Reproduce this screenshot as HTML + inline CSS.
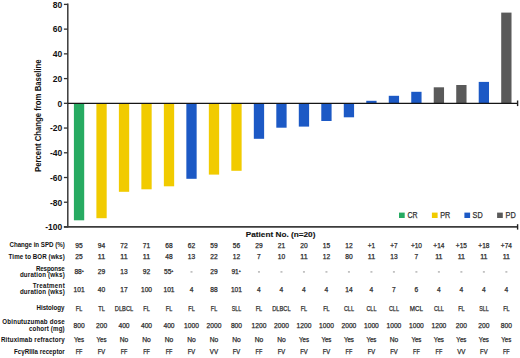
<!DOCTYPE html><html><head><meta charset="utf-8"><style>html,body{margin:0;padding:0;background:#fff;}svg{display:block;}text{font-family:"Liberation Sans",sans-serif;}</style></head><body>
<svg width="520" height="358" viewBox="0 0 520 358">
<rect x="73.90" y="103.20" width="10.3" height="117.10" fill="#27ab62"/>
<rect x="96.39" y="103.20" width="10.3" height="115.00" fill="#f1cb00"/>
<rect x="118.88" y="103.20" width="10.3" height="88.60" fill="#f1cb00"/>
<rect x="141.37" y="103.20" width="10.3" height="86.10" fill="#f1cb00"/>
<rect x="163.86" y="103.20" width="10.3" height="83.10" fill="#f1cb00"/>
<rect x="186.35" y="103.20" width="10.3" height="75.60" fill="#1c59c5"/>
<rect x="208.84" y="103.20" width="10.3" height="71.40" fill="#f1cb00"/>
<rect x="231.33" y="103.20" width="10.3" height="67.60" fill="#f1cb00"/>
<rect x="253.82" y="103.20" width="10.3" height="35.60" fill="#1c59c5"/>
<rect x="276.31" y="103.20" width="10.3" height="24.50" fill="#1c59c5"/>
<rect x="298.80" y="103.20" width="10.3" height="23.40" fill="#1c59c5"/>
<rect x="321.29" y="103.20" width="10.3" height="17.80" fill="#1c59c5"/>
<rect x="343.78" y="103.20" width="10.3" height="14.10" fill="#1c59c5"/>
<rect x="366.27" y="100.80" width="10.3" height="2.40" fill="#1c59c5"/>
<rect x="388.76" y="95.80" width="10.3" height="7.40" fill="#1c59c5"/>
<rect x="411.25" y="91.80" width="10.3" height="11.40" fill="#1c59c5"/>
<rect x="433.74" y="87.30" width="10.3" height="15.90" fill="#5a5a5a"/>
<rect x="456.23" y="85.00" width="10.3" height="18.20" fill="#5a5a5a"/>
<rect x="478.72" y="81.90" width="10.3" height="21.30" fill="#1c59c5"/>
<rect x="501.21" y="12.60" width="10.3" height="90.60" fill="#5a5a5a"/>
<line x1="67.8" y1="3.6" x2="67.8" y2="227.6" stroke="#3a3a3a" stroke-width="1.5"/>
<line x1="63.9" y1="4.40" x2="67.8" y2="4.40" stroke="#333" stroke-width="1.3"/>
<text x="62.3" y="7.70" font-size="8.5" font-weight="bold" text-anchor="end" fill="#111">80</text>
<line x1="63.9" y1="29.13" x2="67.8" y2="29.13" stroke="#333" stroke-width="1.3"/>
<text x="62.3" y="32.43" font-size="8.5" font-weight="bold" text-anchor="end" fill="#111">60</text>
<line x1="63.9" y1="53.86" x2="67.8" y2="53.86" stroke="#333" stroke-width="1.3"/>
<text x="62.3" y="57.16" font-size="8.5" font-weight="bold" text-anchor="end" fill="#111">40</text>
<line x1="63.9" y1="78.59" x2="67.8" y2="78.59" stroke="#333" stroke-width="1.3"/>
<text x="62.3" y="81.89" font-size="8.5" font-weight="bold" text-anchor="end" fill="#111">20</text>
<line x1="63.9" y1="103.32" x2="67.8" y2="103.32" stroke="#333" stroke-width="1.3"/>
<text x="62.3" y="106.62" font-size="8.5" font-weight="bold" text-anchor="end" fill="#111">0</text>
<line x1="63.9" y1="128.05" x2="67.8" y2="128.05" stroke="#333" stroke-width="1.3"/>
<text x="62.3" y="131.35" font-size="8.5" font-weight="bold" text-anchor="end" fill="#111">-20</text>
<line x1="63.9" y1="152.78" x2="67.8" y2="152.78" stroke="#333" stroke-width="1.3"/>
<text x="62.3" y="156.08" font-size="8.5" font-weight="bold" text-anchor="end" fill="#111">-40</text>
<line x1="63.9" y1="177.51" x2="67.8" y2="177.51" stroke="#333" stroke-width="1.3"/>
<text x="62.3" y="180.81" font-size="8.5" font-weight="bold" text-anchor="end" fill="#111">-60</text>
<line x1="63.9" y1="202.24" x2="67.8" y2="202.24" stroke="#333" stroke-width="1.3"/>
<text x="62.3" y="205.54" font-size="8.5" font-weight="bold" text-anchor="end" fill="#111">-80</text>
<line x1="63.9" y1="226.97" x2="67.8" y2="226.97" stroke="#333" stroke-width="1.3"/>
<text x="62.3" y="230.27" font-size="8.5" font-weight="bold" text-anchor="end" fill="#111">-100</text>
<line x1="67.8" y1="103.3" x2="517.6" y2="103.3" stroke="#151515" stroke-width="1.3"/>
<line x1="517.6" y1="100.5" x2="517.6" y2="106.1" stroke="#222" stroke-width="1.4"/>
<line x1="63.9" y1="226.9" x2="517.6" y2="226.9" stroke="#3c3c3c" stroke-width="1.6"/>
<line x1="517.6" y1="224.2" x2="517.6" y2="229.6" stroke="#222" stroke-width="1.4"/>
<text transform="translate(40.9,172.0) rotate(-90)" font-size="8.7" font-weight="bold" fill="#111" textLength="112.6" lengthAdjust="spacingAndGlyphs">Percent Change from Baseline</text>
<rect x="399.0" y="212.6" width="5.7" height="5.4" fill="#27ab62"/>
<text x="407.4" y="218.1" font-size="8.2" fill="#333" stroke="#333" stroke-width="0.25" textLength="10.1" lengthAdjust="spacingAndGlyphs">CR</text>
<rect x="431.9" y="212.6" width="5.7" height="5.4" fill="#f1cb00"/>
<text x="440.3" y="218.1" font-size="8.2" fill="#333" stroke="#333" stroke-width="0.25" textLength="10.0" lengthAdjust="spacingAndGlyphs">PR</text>
<rect x="464.4" y="212.6" width="5.7" height="5.4" fill="#1c59c5"/>
<text x="472.6" y="218.1" font-size="8.2" fill="#333" stroke="#333" stroke-width="0.25" textLength="10.1" lengthAdjust="spacingAndGlyphs">SD</text>
<rect x="497.1" y="212.6" width="5.7" height="5.4" fill="#5a5a5a"/>
<text x="505.6" y="218.1" font-size="8.2" fill="#333" stroke="#333" stroke-width="0.25" textLength="10.2" lengthAdjust="spacingAndGlyphs">PD</text>
<text x="245.8" y="237.1" font-size="8.0" font-weight="bold" fill="#111" stroke="#111" stroke-width="0.12" textLength="69.6" lengthAdjust="spacingAndGlyphs">Patient No. (n=20)</text>
<text transform="translate(9.50,247.4) scale(1,1.06)" font-size="6.2" font-weight="bold" fill="#111" textLength="55.2" lengthAdjust="spacing">Change in SPD (%)</text>
<text transform="translate(8.60,259.1) scale(1,1.06)" font-size="6.2" font-weight="bold" fill="#111" textLength="56.1" lengthAdjust="spacing">Time to BOR (wks)</text>
<text transform="translate(35.90,270.6) scale(1,1.06)" font-size="6.2" font-weight="bold" fill="#111" textLength="28.8" lengthAdjust="spacing">Response</text>
<text transform="translate(19.90,276.6) scale(1,1.06)" font-size="6.2" font-weight="bold" fill="#111" textLength="44.8" lengthAdjust="spacing">duration (wks)</text>
<text transform="translate(32.70,288.3) scale(1,1.06)" font-size="6.2" font-weight="bold" fill="#111" textLength="32.0" lengthAdjust="spacing">Treatment</text>
<text transform="translate(19.90,294.4) scale(1,1.06)" font-size="6.2" font-weight="bold" fill="#111" textLength="44.8" lengthAdjust="spacing">duration (wks)</text>
<text transform="translate(36.50,309.9) scale(1,1.06)" font-size="6.2" font-weight="bold" fill="#111" textLength="28.0" lengthAdjust="spacing">Histology</text>
<text transform="translate(2.30,324.2) scale(1,1.06)" font-size="6.2" font-weight="bold" fill="#111" textLength="62.4" lengthAdjust="spacing">Obinutuzumab dose</text>
<text transform="translate(28.90,330.5) scale(1,1.06)" font-size="6.2" font-weight="bold" fill="#111" textLength="35.8" lengthAdjust="spacing">cohort (mg)</text>
<text transform="translate(1.00,341.9) scale(1,1.06)" font-size="6.2" font-weight="bold" fill="#111" textLength="63.7" lengthAdjust="spacing">Rituximab refractory</text>
<text transform="translate(14.00,353.6) scale(1,1.06)" font-size="6.2" font-weight="bold" fill="#111" textLength="50.7" lengthAdjust="spacing">FcγRIIIa receptor</text>
<text x="79.05" y="247.7" font-size="7" fill="#2a2a2a" stroke="#2a2a2a" stroke-width="0.25" text-anchor="middle" textLength="7.40" lengthAdjust="spacingAndGlyphs">95</text>
<text x="101.54" y="247.7" font-size="7" fill="#2a2a2a" stroke="#2a2a2a" stroke-width="0.25" text-anchor="middle" textLength="7.40" lengthAdjust="spacingAndGlyphs">94</text>
<text x="124.03" y="247.7" font-size="7" fill="#2a2a2a" stroke="#2a2a2a" stroke-width="0.25" text-anchor="middle" textLength="7.40" lengthAdjust="spacingAndGlyphs">72</text>
<text x="146.52" y="247.7" font-size="7" fill="#2a2a2a" stroke="#2a2a2a" stroke-width="0.25" text-anchor="middle" textLength="7.40" lengthAdjust="spacingAndGlyphs">71</text>
<text x="169.01" y="247.7" font-size="7" fill="#2a2a2a" stroke="#2a2a2a" stroke-width="0.25" text-anchor="middle" textLength="7.40" lengthAdjust="spacingAndGlyphs">68</text>
<text x="191.50" y="247.7" font-size="7" fill="#2a2a2a" stroke="#2a2a2a" stroke-width="0.25" text-anchor="middle" textLength="7.40" lengthAdjust="spacingAndGlyphs">62</text>
<text x="213.99" y="247.7" font-size="7" fill="#2a2a2a" stroke="#2a2a2a" stroke-width="0.25" text-anchor="middle" textLength="7.40" lengthAdjust="spacingAndGlyphs">59</text>
<text x="236.48" y="247.7" font-size="7" fill="#2a2a2a" stroke="#2a2a2a" stroke-width="0.25" text-anchor="middle" textLength="7.40" lengthAdjust="spacingAndGlyphs">56</text>
<text x="258.97" y="247.7" font-size="7" fill="#2a2a2a" stroke="#2a2a2a" stroke-width="0.25" text-anchor="middle" textLength="7.40" lengthAdjust="spacingAndGlyphs">29</text>
<text x="281.46" y="247.7" font-size="7" fill="#2a2a2a" stroke="#2a2a2a" stroke-width="0.25" text-anchor="middle" textLength="7.40" lengthAdjust="spacingAndGlyphs">21</text>
<text x="303.95" y="247.7" font-size="7" fill="#2a2a2a" stroke="#2a2a2a" stroke-width="0.25" text-anchor="middle" textLength="7.40" lengthAdjust="spacingAndGlyphs">20</text>
<text x="326.44" y="247.7" font-size="7" fill="#2a2a2a" stroke="#2a2a2a" stroke-width="0.25" text-anchor="middle" textLength="7.40" lengthAdjust="spacingAndGlyphs">15</text>
<text x="348.93" y="247.7" font-size="7" fill="#2a2a2a" stroke="#2a2a2a" stroke-width="0.25" text-anchor="middle" textLength="7.40" lengthAdjust="spacingAndGlyphs">12</text>
<text x="371.42" y="247.7" font-size="7" fill="#2a2a2a" stroke="#2a2a2a" stroke-width="0.25" text-anchor="middle" textLength="7.34" lengthAdjust="spacingAndGlyphs">+1</text>
<text x="393.91" y="247.7" font-size="7" fill="#2a2a2a" stroke="#2a2a2a" stroke-width="0.25" text-anchor="middle" textLength="7.34" lengthAdjust="spacingAndGlyphs">+7</text>
<text x="416.40" y="247.7" font-size="7" fill="#2a2a2a" stroke="#2a2a2a" stroke-width="0.25" text-anchor="middle" textLength="11.04" lengthAdjust="spacingAndGlyphs">+10</text>
<text x="438.89" y="247.7" font-size="7" fill="#2a2a2a" stroke="#2a2a2a" stroke-width="0.25" text-anchor="middle" textLength="11.04" lengthAdjust="spacingAndGlyphs">+14</text>
<text x="461.38" y="247.7" font-size="7" fill="#2a2a2a" stroke="#2a2a2a" stroke-width="0.25" text-anchor="middle" textLength="11.04" lengthAdjust="spacingAndGlyphs">+15</text>
<text x="483.87" y="247.7" font-size="7" fill="#2a2a2a" stroke="#2a2a2a" stroke-width="0.25" text-anchor="middle" textLength="11.04" lengthAdjust="spacingAndGlyphs">+18</text>
<text x="506.36" y="247.7" font-size="7" fill="#2a2a2a" stroke="#2a2a2a" stroke-width="0.25" text-anchor="middle" textLength="11.04" lengthAdjust="spacingAndGlyphs">+74</text>
<text x="79.05" y="259.2" font-size="7" fill="#2a2a2a" stroke="#2a2a2a" stroke-width="0.25" text-anchor="middle" textLength="7.40" lengthAdjust="spacingAndGlyphs">25</text>
<text x="101.54" y="259.2" font-size="7" fill="#2a2a2a" stroke="#2a2a2a" stroke-width="0.25" text-anchor="middle" textLength="7.40" lengthAdjust="spacingAndGlyphs">11</text>
<text x="124.03" y="259.2" font-size="7" fill="#2a2a2a" stroke="#2a2a2a" stroke-width="0.25" text-anchor="middle" textLength="7.40" lengthAdjust="spacingAndGlyphs">11</text>
<text x="146.52" y="259.2" font-size="7" fill="#2a2a2a" stroke="#2a2a2a" stroke-width="0.25" text-anchor="middle" textLength="7.40" lengthAdjust="spacingAndGlyphs">11</text>
<text x="169.01" y="259.2" font-size="7" fill="#2a2a2a" stroke="#2a2a2a" stroke-width="0.25" text-anchor="middle" textLength="7.40" lengthAdjust="spacingAndGlyphs">48</text>
<text x="191.50" y="259.2" font-size="7" fill="#2a2a2a" stroke="#2a2a2a" stroke-width="0.25" text-anchor="middle" textLength="7.40" lengthAdjust="spacingAndGlyphs">13</text>
<text x="213.99" y="259.2" font-size="7" fill="#2a2a2a" stroke="#2a2a2a" stroke-width="0.25" text-anchor="middle" textLength="7.40" lengthAdjust="spacingAndGlyphs">22</text>
<text x="236.48" y="259.2" font-size="7" fill="#2a2a2a" stroke="#2a2a2a" stroke-width="0.25" text-anchor="middle" textLength="7.40" lengthAdjust="spacingAndGlyphs">12</text>
<text x="258.97" y="259.2" font-size="7" fill="#2a2a2a" stroke="#2a2a2a" stroke-width="0.25" text-anchor="middle" textLength="3.70" lengthAdjust="spacingAndGlyphs">7</text>
<text x="281.46" y="259.2" font-size="7" fill="#2a2a2a" stroke="#2a2a2a" stroke-width="0.25" text-anchor="middle" textLength="7.40" lengthAdjust="spacingAndGlyphs">10</text>
<text x="303.95" y="259.2" font-size="7" fill="#2a2a2a" stroke="#2a2a2a" stroke-width="0.25" text-anchor="middle" textLength="7.40" lengthAdjust="spacingAndGlyphs">11</text>
<text x="326.44" y="259.2" font-size="7" fill="#2a2a2a" stroke="#2a2a2a" stroke-width="0.25" text-anchor="middle" textLength="7.40" lengthAdjust="spacingAndGlyphs">12</text>
<text x="348.93" y="259.2" font-size="7" fill="#2a2a2a" stroke="#2a2a2a" stroke-width="0.25" text-anchor="middle" textLength="7.40" lengthAdjust="spacingAndGlyphs">80</text>
<text x="371.42" y="259.2" font-size="7" fill="#2a2a2a" stroke="#2a2a2a" stroke-width="0.25" text-anchor="middle" textLength="7.40" lengthAdjust="spacingAndGlyphs">11</text>
<text x="393.91" y="259.2" font-size="7" fill="#2a2a2a" stroke="#2a2a2a" stroke-width="0.25" text-anchor="middle" textLength="7.40" lengthAdjust="spacingAndGlyphs">13</text>
<text x="416.40" y="259.2" font-size="7" fill="#2a2a2a" stroke="#2a2a2a" stroke-width="0.25" text-anchor="middle" textLength="3.70" lengthAdjust="spacingAndGlyphs">7</text>
<text x="438.89" y="259.2" font-size="7" fill="#2a2a2a" stroke="#2a2a2a" stroke-width="0.25" text-anchor="middle" textLength="7.40" lengthAdjust="spacingAndGlyphs">11</text>
<text x="461.38" y="259.2" font-size="7" fill="#2a2a2a" stroke="#2a2a2a" stroke-width="0.25" text-anchor="middle" textLength="7.40" lengthAdjust="spacingAndGlyphs">11</text>
<text x="483.87" y="259.2" font-size="7" fill="#2a2a2a" stroke="#2a2a2a" stroke-width="0.25" text-anchor="middle" textLength="7.40" lengthAdjust="spacingAndGlyphs">11</text>
<text x="506.36" y="259.2" font-size="7" fill="#2a2a2a" stroke="#2a2a2a" stroke-width="0.25" text-anchor="middle" textLength="7.40" lengthAdjust="spacingAndGlyphs">11</text>
<text x="79.15" y="273.7" font-size="7" fill="#2a2a2a" stroke="#2a2a2a" stroke-width="0.25" text-anchor="middle"><tspan textLength="7.40" lengthAdjust="spacingAndGlyphs">88</tspan><tspan font-size="3.6" dy="-2.1">+</tspan></text>
<text x="101.54" y="273.7" font-size="7" fill="#2a2a2a" stroke="#2a2a2a" stroke-width="0.25" text-anchor="middle" textLength="7.40" lengthAdjust="spacingAndGlyphs">29</text>
<text x="124.03" y="273.7" font-size="7" fill="#2a2a2a" stroke="#2a2a2a" stroke-width="0.25" text-anchor="middle" textLength="7.40" lengthAdjust="spacingAndGlyphs">13</text>
<text x="146.52" y="273.7" font-size="7" fill="#2a2a2a" stroke="#2a2a2a" stroke-width="0.25" text-anchor="middle" textLength="7.40" lengthAdjust="spacingAndGlyphs">92</text>
<text x="168.71" y="273.7" font-size="7" fill="#2a2a2a" stroke="#2a2a2a" stroke-width="0.25" text-anchor="middle"><tspan textLength="7.40" lengthAdjust="spacingAndGlyphs">55</tspan><tspan font-size="3.6" dy="-2.1">+</tspan></text>
<rect x="190.50" y="271.10" width="2" height="1.6" fill="#bbb"/>
<text x="213.99" y="273.7" font-size="7" fill="#2a2a2a" stroke="#2a2a2a" stroke-width="0.25" text-anchor="middle" textLength="7.40" lengthAdjust="spacingAndGlyphs">29</text>
<text x="236.18" y="273.7" font-size="7" fill="#2a2a2a" stroke="#2a2a2a" stroke-width="0.25" text-anchor="middle"><tspan textLength="7.40" lengthAdjust="spacingAndGlyphs">91</tspan><tspan font-size="3.6" dy="-2.1">+</tspan></text>
<rect x="257.97" y="271.10" width="2" height="1.6" fill="#bbb"/>
<rect x="280.46" y="271.10" width="2" height="1.6" fill="#bbb"/>
<rect x="302.95" y="271.10" width="2" height="1.6" fill="#bbb"/>
<rect x="325.44" y="271.10" width="2" height="1.6" fill="#bbb"/>
<rect x="347.93" y="271.10" width="2" height="1.6" fill="#bbb"/>
<rect x="370.42" y="271.10" width="2" height="1.6" fill="#bbb"/>
<rect x="392.91" y="271.10" width="2" height="1.6" fill="#bbb"/>
<rect x="415.40" y="271.10" width="2" height="1.6" fill="#bbb"/>
<rect x="437.89" y="271.10" width="2" height="1.6" fill="#bbb"/>
<rect x="460.38" y="271.10" width="2" height="1.6" fill="#bbb"/>
<rect x="482.87" y="271.10" width="2" height="1.6" fill="#bbb"/>
<rect x="505.36" y="271.10" width="2" height="1.6" fill="#bbb"/>
<text x="79.05" y="291.8" font-size="7" fill="#2a2a2a" stroke="#2a2a2a" stroke-width="0.25" text-anchor="middle" textLength="11.10" lengthAdjust="spacingAndGlyphs">101</text>
<text x="101.54" y="291.8" font-size="7" fill="#2a2a2a" stroke="#2a2a2a" stroke-width="0.25" text-anchor="middle" textLength="7.40" lengthAdjust="spacingAndGlyphs">40</text>
<text x="124.03" y="291.8" font-size="7" fill="#2a2a2a" stroke="#2a2a2a" stroke-width="0.25" text-anchor="middle" textLength="7.40" lengthAdjust="spacingAndGlyphs">17</text>
<text x="146.52" y="291.8" font-size="7" fill="#2a2a2a" stroke="#2a2a2a" stroke-width="0.25" text-anchor="middle" textLength="11.10" lengthAdjust="spacingAndGlyphs">100</text>
<text x="169.01" y="291.8" font-size="7" fill="#2a2a2a" stroke="#2a2a2a" stroke-width="0.25" text-anchor="middle" textLength="11.10" lengthAdjust="spacingAndGlyphs">101</text>
<text x="191.50" y="291.8" font-size="7" fill="#2a2a2a" stroke="#2a2a2a" stroke-width="0.25" text-anchor="middle" textLength="3.70" lengthAdjust="spacingAndGlyphs">4</text>
<text x="213.99" y="291.8" font-size="7" fill="#2a2a2a" stroke="#2a2a2a" stroke-width="0.25" text-anchor="middle" textLength="7.40" lengthAdjust="spacingAndGlyphs">88</text>
<text x="236.48" y="291.8" font-size="7" fill="#2a2a2a" stroke="#2a2a2a" stroke-width="0.25" text-anchor="middle" textLength="11.10" lengthAdjust="spacingAndGlyphs">101</text>
<text x="258.97" y="291.8" font-size="7" fill="#2a2a2a" stroke="#2a2a2a" stroke-width="0.25" text-anchor="middle" textLength="3.70" lengthAdjust="spacingAndGlyphs">4</text>
<text x="281.46" y="291.8" font-size="7" fill="#2a2a2a" stroke="#2a2a2a" stroke-width="0.25" text-anchor="middle" textLength="3.70" lengthAdjust="spacingAndGlyphs">4</text>
<text x="303.95" y="291.8" font-size="7" fill="#2a2a2a" stroke="#2a2a2a" stroke-width="0.25" text-anchor="middle" textLength="3.70" lengthAdjust="spacingAndGlyphs">4</text>
<text x="326.44" y="291.8" font-size="7" fill="#2a2a2a" stroke="#2a2a2a" stroke-width="0.25" text-anchor="middle" textLength="3.70" lengthAdjust="spacingAndGlyphs">4</text>
<text x="348.93" y="291.8" font-size="7" fill="#2a2a2a" stroke="#2a2a2a" stroke-width="0.25" text-anchor="middle" textLength="7.40" lengthAdjust="spacingAndGlyphs">14</text>
<text x="371.42" y="291.8" font-size="7" fill="#2a2a2a" stroke="#2a2a2a" stroke-width="0.25" text-anchor="middle" textLength="3.70" lengthAdjust="spacingAndGlyphs">4</text>
<text x="393.91" y="291.8" font-size="7" fill="#2a2a2a" stroke="#2a2a2a" stroke-width="0.25" text-anchor="middle" textLength="3.70" lengthAdjust="spacingAndGlyphs">7</text>
<text x="416.40" y="291.8" font-size="7" fill="#2a2a2a" stroke="#2a2a2a" stroke-width="0.25" text-anchor="middle" textLength="3.70" lengthAdjust="spacingAndGlyphs">6</text>
<text x="438.89" y="291.8" font-size="7" fill="#2a2a2a" stroke="#2a2a2a" stroke-width="0.25" text-anchor="middle" textLength="3.70" lengthAdjust="spacingAndGlyphs">4</text>
<text x="461.38" y="291.8" font-size="7" fill="#2a2a2a" stroke="#2a2a2a" stroke-width="0.25" text-anchor="middle" textLength="3.70" lengthAdjust="spacingAndGlyphs">4</text>
<text x="483.87" y="291.8" font-size="7" fill="#2a2a2a" stroke="#2a2a2a" stroke-width="0.25" text-anchor="middle" textLength="3.70" lengthAdjust="spacingAndGlyphs">4</text>
<text x="506.36" y="291.8" font-size="7" fill="#2a2a2a" stroke="#2a2a2a" stroke-width="0.25" text-anchor="middle" textLength="3.70" lengthAdjust="spacingAndGlyphs">4</text>
<text x="79.05" y="310.5" font-size="7" fill="#2a2a2a" stroke="#2a2a2a" stroke-width="0.25" text-anchor="middle" textLength="6.42" lengthAdjust="spacingAndGlyphs">FL</text>
<text x="101.54" y="310.5" font-size="7" fill="#2a2a2a" stroke="#2a2a2a" stroke-width="0.25" text-anchor="middle" textLength="6.63" lengthAdjust="spacingAndGlyphs">TL</text>
<text x="124.03" y="310.5" font-size="7" fill="#2a2a2a" stroke="#2a2a2a" stroke-width="0.25" text-anchor="middle" textLength="18.49" lengthAdjust="spacingAndGlyphs">DLBCL</text>
<text x="146.52" y="310.5" font-size="7" fill="#2a2a2a" stroke="#2a2a2a" stroke-width="0.25" text-anchor="middle" textLength="6.42" lengthAdjust="spacingAndGlyphs">FL</text>
<text x="169.01" y="310.5" font-size="7" fill="#2a2a2a" stroke="#2a2a2a" stroke-width="0.25" text-anchor="middle" textLength="6.42" lengthAdjust="spacingAndGlyphs">FL</text>
<text x="191.50" y="310.5" font-size="7" fill="#2a2a2a" stroke="#2a2a2a" stroke-width="0.25" text-anchor="middle" textLength="6.42" lengthAdjust="spacingAndGlyphs">FL</text>
<text x="213.99" y="310.5" font-size="7" fill="#2a2a2a" stroke="#2a2a2a" stroke-width="0.25" text-anchor="middle" textLength="6.42" lengthAdjust="spacingAndGlyphs">FL</text>
<text x="236.48" y="310.5" font-size="7" fill="#2a2a2a" stroke="#2a2a2a" stroke-width="0.25" text-anchor="middle" textLength="9.49" lengthAdjust="spacingAndGlyphs">SLL</text>
<text x="258.97" y="310.5" font-size="7" fill="#2a2a2a" stroke="#2a2a2a" stroke-width="0.25" text-anchor="middle" textLength="6.42" lengthAdjust="spacingAndGlyphs">FL</text>
<text x="281.46" y="310.5" font-size="7" fill="#2a2a2a" stroke="#2a2a2a" stroke-width="0.25" text-anchor="middle" textLength="18.49" lengthAdjust="spacingAndGlyphs">DLBCL</text>
<text x="303.95" y="310.5" font-size="7" fill="#2a2a2a" stroke="#2a2a2a" stroke-width="0.25" text-anchor="middle" textLength="6.42" lengthAdjust="spacingAndGlyphs">FL</text>
<text x="326.44" y="310.5" font-size="7" fill="#2a2a2a" stroke="#2a2a2a" stroke-width="0.25" text-anchor="middle" textLength="6.42" lengthAdjust="spacingAndGlyphs">FL</text>
<text x="348.93" y="310.5" font-size="7" fill="#2a2a2a" stroke="#2a2a2a" stroke-width="0.25" text-anchor="middle" textLength="10.03" lengthAdjust="spacingAndGlyphs">CLL</text>
<text x="371.42" y="310.5" font-size="7" fill="#2a2a2a" stroke="#2a2a2a" stroke-width="0.25" text-anchor="middle" textLength="10.03" lengthAdjust="spacingAndGlyphs">CLL</text>
<text x="393.91" y="310.5" font-size="7" fill="#2a2a2a" stroke="#2a2a2a" stroke-width="0.25" text-anchor="middle" textLength="10.03" lengthAdjust="spacingAndGlyphs">CLL</text>
<text x="416.40" y="310.5" font-size="7" fill="#2a2a2a" stroke="#2a2a2a" stroke-width="0.25" text-anchor="middle" textLength="13.20" lengthAdjust="spacingAndGlyphs">MCL</text>
<text x="438.89" y="310.5" font-size="7" fill="#2a2a2a" stroke="#2a2a2a" stroke-width="0.25" text-anchor="middle" textLength="10.03" lengthAdjust="spacingAndGlyphs">CLL</text>
<text x="461.38" y="310.5" font-size="7" fill="#2a2a2a" stroke="#2a2a2a" stroke-width="0.25" text-anchor="middle" textLength="6.42" lengthAdjust="spacingAndGlyphs">FL</text>
<text x="483.87" y="310.5" font-size="7" fill="#2a2a2a" stroke="#2a2a2a" stroke-width="0.25" text-anchor="middle" textLength="9.49" lengthAdjust="spacingAndGlyphs">SLL</text>
<text x="506.36" y="310.5" font-size="7" fill="#2a2a2a" stroke="#2a2a2a" stroke-width="0.25" text-anchor="middle" textLength="6.42" lengthAdjust="spacingAndGlyphs">FL</text>
<text x="79.05" y="327.5" font-size="7" fill="#2a2a2a" stroke="#2a2a2a" stroke-width="0.25" text-anchor="middle" textLength="11.10" lengthAdjust="spacingAndGlyphs">800</text>
<text x="101.54" y="327.5" font-size="7" fill="#2a2a2a" stroke="#2a2a2a" stroke-width="0.25" text-anchor="middle" textLength="11.10" lengthAdjust="spacingAndGlyphs">200</text>
<text x="124.03" y="327.5" font-size="7" fill="#2a2a2a" stroke="#2a2a2a" stroke-width="0.25" text-anchor="middle" textLength="11.10" lengthAdjust="spacingAndGlyphs">400</text>
<text x="146.52" y="327.5" font-size="7" fill="#2a2a2a" stroke="#2a2a2a" stroke-width="0.25" text-anchor="middle" textLength="11.10" lengthAdjust="spacingAndGlyphs">400</text>
<text x="169.01" y="327.5" font-size="7" fill="#2a2a2a" stroke="#2a2a2a" stroke-width="0.25" text-anchor="middle" textLength="11.10" lengthAdjust="spacingAndGlyphs">400</text>
<text x="191.50" y="327.5" font-size="7" fill="#2a2a2a" stroke="#2a2a2a" stroke-width="0.25" text-anchor="middle" textLength="14.80" lengthAdjust="spacingAndGlyphs">1000</text>
<text x="213.99" y="327.5" font-size="7" fill="#2a2a2a" stroke="#2a2a2a" stroke-width="0.25" text-anchor="middle" textLength="14.80" lengthAdjust="spacingAndGlyphs">2000</text>
<text x="236.48" y="327.5" font-size="7" fill="#2a2a2a" stroke="#2a2a2a" stroke-width="0.25" text-anchor="middle" textLength="11.10" lengthAdjust="spacingAndGlyphs">800</text>
<text x="258.97" y="327.5" font-size="7" fill="#2a2a2a" stroke="#2a2a2a" stroke-width="0.25" text-anchor="middle" textLength="14.80" lengthAdjust="spacingAndGlyphs">1200</text>
<text x="281.46" y="327.5" font-size="7" fill="#2a2a2a" stroke="#2a2a2a" stroke-width="0.25" text-anchor="middle" textLength="14.80" lengthAdjust="spacingAndGlyphs">2000</text>
<text x="303.95" y="327.5" font-size="7" fill="#2a2a2a" stroke="#2a2a2a" stroke-width="0.25" text-anchor="middle" textLength="14.80" lengthAdjust="spacingAndGlyphs">1200</text>
<text x="326.44" y="327.5" font-size="7" fill="#2a2a2a" stroke="#2a2a2a" stroke-width="0.25" text-anchor="middle" textLength="14.80" lengthAdjust="spacingAndGlyphs">1000</text>
<text x="348.93" y="327.5" font-size="7" fill="#2a2a2a" stroke="#2a2a2a" stroke-width="0.25" text-anchor="middle" textLength="14.80" lengthAdjust="spacingAndGlyphs">2000</text>
<text x="371.42" y="327.5" font-size="7" fill="#2a2a2a" stroke="#2a2a2a" stroke-width="0.25" text-anchor="middle" textLength="14.80" lengthAdjust="spacingAndGlyphs">1000</text>
<text x="393.91" y="327.5" font-size="7" fill="#2a2a2a" stroke="#2a2a2a" stroke-width="0.25" text-anchor="middle" textLength="14.80" lengthAdjust="spacingAndGlyphs">1000</text>
<text x="416.40" y="327.5" font-size="7" fill="#2a2a2a" stroke="#2a2a2a" stroke-width="0.25" text-anchor="middle" textLength="14.80" lengthAdjust="spacingAndGlyphs">1000</text>
<text x="438.89" y="327.5" font-size="7" fill="#2a2a2a" stroke="#2a2a2a" stroke-width="0.25" text-anchor="middle" textLength="14.80" lengthAdjust="spacingAndGlyphs">1200</text>
<text x="461.38" y="327.5" font-size="7" fill="#2a2a2a" stroke="#2a2a2a" stroke-width="0.25" text-anchor="middle" textLength="11.10" lengthAdjust="spacingAndGlyphs">200</text>
<text x="483.87" y="327.5" font-size="7" fill="#2a2a2a" stroke="#2a2a2a" stroke-width="0.25" text-anchor="middle" textLength="11.10" lengthAdjust="spacingAndGlyphs">200</text>
<text x="506.36" y="327.5" font-size="7" fill="#2a2a2a" stroke="#2a2a2a" stroke-width="0.25" text-anchor="middle" textLength="11.10" lengthAdjust="spacingAndGlyphs">800</text>
<text x="79.05" y="342.2" font-size="7" fill="#2a2a2a" stroke="#2a2a2a" stroke-width="0.25" text-anchor="middle" textLength="10.04" lengthAdjust="spacingAndGlyphs">Yes</text>
<text x="101.54" y="342.2" font-size="7" fill="#2a2a2a" stroke="#2a2a2a" stroke-width="0.25" text-anchor="middle" textLength="10.04" lengthAdjust="spacingAndGlyphs">Yes</text>
<text x="124.03" y="342.2" font-size="7" fill="#2a2a2a" stroke="#2a2a2a" stroke-width="0.25" text-anchor="middle" textLength="8.56" lengthAdjust="spacingAndGlyphs">No</text>
<text x="146.52" y="342.2" font-size="7" fill="#2a2a2a" stroke="#2a2a2a" stroke-width="0.25" text-anchor="middle" textLength="8.56" lengthAdjust="spacingAndGlyphs">No</text>
<text x="169.01" y="342.2" font-size="7" fill="#2a2a2a" stroke="#2a2a2a" stroke-width="0.25" text-anchor="middle" textLength="8.56" lengthAdjust="spacingAndGlyphs">No</text>
<text x="191.50" y="342.2" font-size="7" fill="#2a2a2a" stroke="#2a2a2a" stroke-width="0.25" text-anchor="middle" textLength="8.56" lengthAdjust="spacingAndGlyphs">No</text>
<text x="213.99" y="342.2" font-size="7" fill="#2a2a2a" stroke="#2a2a2a" stroke-width="0.25" text-anchor="middle" textLength="8.56" lengthAdjust="spacingAndGlyphs">No</text>
<text x="236.48" y="342.2" font-size="7" fill="#2a2a2a" stroke="#2a2a2a" stroke-width="0.25" text-anchor="middle" textLength="8.56" lengthAdjust="spacingAndGlyphs">No</text>
<text x="258.97" y="342.2" font-size="7" fill="#2a2a2a" stroke="#2a2a2a" stroke-width="0.25" text-anchor="middle" textLength="8.56" lengthAdjust="spacingAndGlyphs">No</text>
<text x="281.46" y="342.2" font-size="7" fill="#2a2a2a" stroke="#2a2a2a" stroke-width="0.25" text-anchor="middle" textLength="8.56" lengthAdjust="spacingAndGlyphs">No</text>
<text x="303.95" y="342.2" font-size="7" fill="#2a2a2a" stroke="#2a2a2a" stroke-width="0.25" text-anchor="middle" textLength="10.04" lengthAdjust="spacingAndGlyphs">Yes</text>
<text x="326.44" y="342.2" font-size="7" fill="#2a2a2a" stroke="#2a2a2a" stroke-width="0.25" text-anchor="middle" textLength="10.04" lengthAdjust="spacingAndGlyphs">Yes</text>
<text x="348.93" y="342.2" font-size="7" fill="#2a2a2a" stroke="#2a2a2a" stroke-width="0.25" text-anchor="middle" textLength="10.04" lengthAdjust="spacingAndGlyphs">Yes</text>
<text x="371.42" y="342.2" font-size="7" fill="#2a2a2a" stroke="#2a2a2a" stroke-width="0.25" text-anchor="middle" textLength="10.04" lengthAdjust="spacingAndGlyphs">Yes</text>
<text x="393.91" y="342.2" font-size="7" fill="#2a2a2a" stroke="#2a2a2a" stroke-width="0.25" text-anchor="middle" textLength="8.56" lengthAdjust="spacingAndGlyphs">No</text>
<text x="416.40" y="342.2" font-size="7" fill="#2a2a2a" stroke="#2a2a2a" stroke-width="0.25" text-anchor="middle" textLength="10.04" lengthAdjust="spacingAndGlyphs">Yes</text>
<text x="438.89" y="342.2" font-size="7" fill="#2a2a2a" stroke="#2a2a2a" stroke-width="0.25" text-anchor="middle" textLength="10.04" lengthAdjust="spacingAndGlyphs">Yes</text>
<text x="461.38" y="342.2" font-size="7" fill="#2a2a2a" stroke="#2a2a2a" stroke-width="0.25" text-anchor="middle" textLength="10.04" lengthAdjust="spacingAndGlyphs">Yes</text>
<text x="483.87" y="342.2" font-size="7" fill="#2a2a2a" stroke="#2a2a2a" stroke-width="0.25" text-anchor="middle" textLength="10.04" lengthAdjust="spacingAndGlyphs">Yes</text>
<text x="506.36" y="342.2" font-size="7" fill="#2a2a2a" stroke="#2a2a2a" stroke-width="0.25" text-anchor="middle" textLength="10.04" lengthAdjust="spacingAndGlyphs">Yes</text>
<text x="79.05" y="354.4" font-size="7" fill="#2a2a2a" stroke="#2a2a2a" stroke-width="0.25" text-anchor="middle" textLength="6.71" lengthAdjust="spacingAndGlyphs">FF</text>
<text x="101.54" y="354.4" font-size="7" fill="#2a2a2a" stroke="#2a2a2a" stroke-width="0.25" text-anchor="middle" textLength="7.50" lengthAdjust="spacingAndGlyphs">FV</text>
<text x="124.03" y="354.4" font-size="7" fill="#2a2a2a" stroke="#2a2a2a" stroke-width="0.25" text-anchor="middle" textLength="6.71" lengthAdjust="spacingAndGlyphs">FF</text>
<text x="146.52" y="354.4" font-size="7" fill="#2a2a2a" stroke="#2a2a2a" stroke-width="0.25" text-anchor="middle" textLength="6.71" lengthAdjust="spacingAndGlyphs">FF</text>
<text x="169.01" y="354.4" font-size="7" fill="#2a2a2a" stroke="#2a2a2a" stroke-width="0.25" text-anchor="middle" textLength="6.71" lengthAdjust="spacingAndGlyphs">FF</text>
<text x="191.50" y="354.4" font-size="7" fill="#2a2a2a" stroke="#2a2a2a" stroke-width="0.25" text-anchor="middle" textLength="7.50" lengthAdjust="spacingAndGlyphs">FV</text>
<text x="213.99" y="354.4" font-size="7" fill="#2a2a2a" stroke="#2a2a2a" stroke-width="0.25" text-anchor="middle" textLength="8.28" lengthAdjust="spacingAndGlyphs">VV</text>
<text x="236.48" y="354.4" font-size="7" fill="#2a2a2a" stroke="#2a2a2a" stroke-width="0.25" text-anchor="middle" textLength="7.50" lengthAdjust="spacingAndGlyphs">FV</text>
<text x="258.97" y="354.4" font-size="7" fill="#2a2a2a" stroke="#2a2a2a" stroke-width="0.25" text-anchor="middle" textLength="6.71" lengthAdjust="spacingAndGlyphs">FF</text>
<text x="281.46" y="354.4" font-size="7" fill="#2a2a2a" stroke="#2a2a2a" stroke-width="0.25" text-anchor="middle" textLength="7.50" lengthAdjust="spacingAndGlyphs">FV</text>
<text x="303.95" y="354.4" font-size="7" fill="#2a2a2a" stroke="#2a2a2a" stroke-width="0.25" text-anchor="middle" textLength="7.50" lengthAdjust="spacingAndGlyphs">FV</text>
<text x="326.44" y="354.4" font-size="7" fill="#2a2a2a" stroke="#2a2a2a" stroke-width="0.25" text-anchor="middle" textLength="7.50" lengthAdjust="spacingAndGlyphs">FV</text>
<text x="348.93" y="354.4" font-size="7" fill="#2a2a2a" stroke="#2a2a2a" stroke-width="0.25" text-anchor="middle" textLength="6.71" lengthAdjust="spacingAndGlyphs">FF</text>
<text x="371.42" y="354.4" font-size="7" fill="#2a2a2a" stroke="#2a2a2a" stroke-width="0.25" text-anchor="middle" textLength="7.50" lengthAdjust="spacingAndGlyphs">FV</text>
<text x="393.91" y="354.4" font-size="7" fill="#2a2a2a" stroke="#2a2a2a" stroke-width="0.25" text-anchor="middle" textLength="7.50" lengthAdjust="spacingAndGlyphs">FV</text>
<text x="416.40" y="354.4" font-size="7" fill="#2a2a2a" stroke="#2a2a2a" stroke-width="0.25" text-anchor="middle" textLength="6.71" lengthAdjust="spacingAndGlyphs">FF</text>
<text x="438.89" y="354.4" font-size="7" fill="#2a2a2a" stroke="#2a2a2a" stroke-width="0.25" text-anchor="middle" textLength="6.71" lengthAdjust="spacingAndGlyphs">FF</text>
<text x="461.38" y="354.4" font-size="7" fill="#2a2a2a" stroke="#2a2a2a" stroke-width="0.25" text-anchor="middle" textLength="8.28" lengthAdjust="spacingAndGlyphs">VV</text>
<text x="483.87" y="354.4" font-size="7" fill="#2a2a2a" stroke="#2a2a2a" stroke-width="0.25" text-anchor="middle" textLength="7.50" lengthAdjust="spacingAndGlyphs">FV</text>
<text x="506.36" y="354.4" font-size="7" fill="#2a2a2a" stroke="#2a2a2a" stroke-width="0.25" text-anchor="middle" textLength="6.71" lengthAdjust="spacingAndGlyphs">FF</text>
</svg></body></html>
